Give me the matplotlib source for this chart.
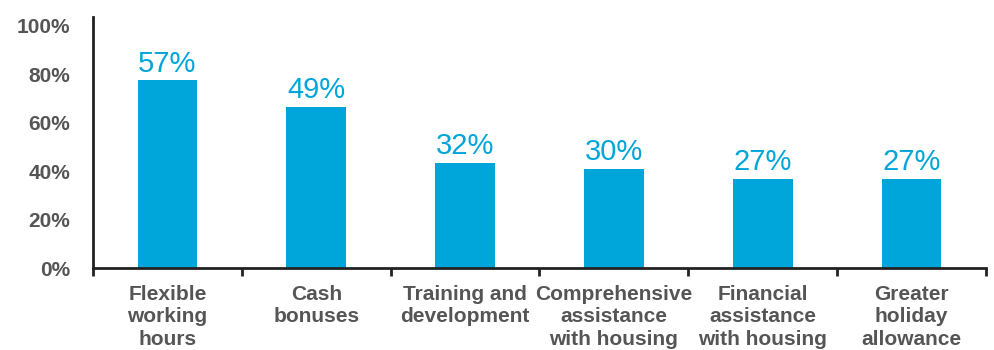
import numpy as np
import matplotlib
matplotlib.use('Agg')
import matplotlib.pyplot as plt

plt.rcParams['font.family'] = ['Liberation Sans', 'DejaVu Sans']

categories = ['Flexible\nworking\nhours', 'Cash\nbonuses', 'Training and\ndevelopment',
              'Comprehensive\nassistance\nwith housing', 'Financial\nassistance\nwith housing',
              'Greater\nholiday\nallowance']
values = [57, 49, 32, 30, 27, 27]
tick_labels = ['0%', '20%', '40%', '60%', '80%', '100%']

bar_color = '#00A6D9'
text_gray = '#555555'
# the printed axis is stretched: the "100%" line sits at about 73.5
axis_scale = 73.5

fig = plt.figure(figsize=(9.95, 3.5), dpi=100)
ax = fig.add_axes([93 / 995, 82 / 350, 893 / 995, 251 / 350])

x = np.arange(len(values))
bars = ax.bar(x, values, width=0.4, color=bar_color, zorder=2)
for b, v in zip(bars, values):
    ax.annotate(f'{v}%', (b.get_x() + b.get_width() / 2, v), xytext=(0, 2),
                textcoords='offset points', ha='center', va='bottom',
                fontsize=21, color=bar_color)

ax.set_xlim(-0.5, len(values) - 0.5)
ax.set_ylim(0, axis_scale * 251 / 242)
ax.set_yticks(np.linspace(0, axis_scale, len(tick_labels)))
ax.set_yticklabels(tick_labels, fontsize=15, fontweight='bold', color=text_gray)
ax.tick_params(axis='y', length=0, pad=16.5)

ax.set_xticks(x)
ax.set_xticklabels(categories, fontsize=15, fontweight='bold', color=text_gray,
                   linespacing=1.25)
ax.tick_params(axis='x', length=0, pad=12)
ax.set_xticks(np.arange(len(values) + 1) - 0.5, minor=True)
ax.tick_params(axis='x', which='minor', length=6, width=2, color='#222222', direction='out')

for s in ['top', 'right']:
    ax.spines[s].set_visible(False)
for s in ['left', 'bottom']:
    ax.spines[s].set_linewidth(2)
    ax.spines[s].set_color('#222222')

fig.savefig('out.png', dpi=100)
